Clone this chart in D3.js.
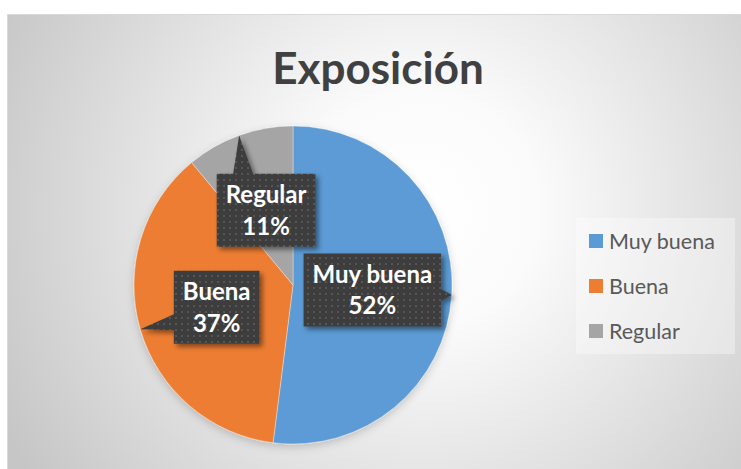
<!DOCTYPE html>
<html>
<head>
<meta charset="utf-8">
<script src="https://cdn.jsdelivr.net/npm/d3@7"></script>
<style>
  body { margin: 0; background: #fff; }
  svg { display: block; }
</style>
</head>
<body>
<script>
// Data
var categories = ["Muy buena", "Buena", "Regular"],
    values = [52, 37, 11],
    colors = ["#5b9bd5", "#ed7d31", "#a5a5a5"],
    title = "Exposición";

var canvas = {w: 741, h: 469},
    frame = {x: 7.5, y: 14.5},
    pieCenter = {x: 293, y: 285},
    radius = 159;

var svg = d3.select("body").append("svg")
    .attr("width", canvas.w)
    .attr("height", canvas.h);

var defs = svg.append("defs");

// radial background like the Excel style
var grad = defs.append("radialGradient")
    .attr("id", "bg")
    .attr("gradientUnits", "userSpaceOnUse")
    .attr("cx", 420).attr("cy", 210).attr("r", 470);
grad.append("stop").attr("offset", "0").attr("stop-color", "#ffffff");
grad.append("stop").attr("offset", "0.25").attr("stop-color", "#fbfbfb");
grad.append("stop").attr("offset", "1").attr("stop-color", "#c6c6c6");

// dotted dark fill of the callouts
var pat = defs.append("pattern")
    .attr("id", "dots")
    .attr("patternUnits", "userSpaceOnUse")
    .attr("width", 6).attr("height", 6);
pat.append("rect").attr("width", 6).attr("height", 6).attr("fill", "#3e3e3e");
pat.append("rect").attr("x", 2).attr("y", 2).attr("width", 2).attr("height", 2).attr("fill", "#575757");

var shadow = defs.append("filter").attr("id", "shadow")
    .attr("x", "-20%").attr("y", "-20%").attr("width", "150%").attr("height", "150%");
shadow.append("feDropShadow")
    .attr("dx", 3).attr("dy", 3).attr("stdDeviation", 2.5)
    .attr("flood-color", "#000").attr("flood-opacity", 0.45);

var pieShadow = defs.append("filter").attr("id", "pieShadow")
    .attr("x", "-20%").attr("y", "-20%").attr("width", "140%").attr("height", "140%");
pieShadow.append("feDropShadow")
    .attr("dx", 0).attr("dy", 3).attr("stdDeviation", 4)
    .attr("flood-color", "#000").attr("flood-opacity", 0.18);

// chart area
svg.append("rect")
    .attr("x", frame.x).attr("y", frame.y)
    .attr("width", canvas.w - frame.x + 2)
    .attr("height", canvas.h - frame.y + 2)
    .attr("fill", "url(#bg)")
    .attr("stroke", "#d9d9d9")
    .attr("stroke-width", 1);

// title
svg.append("text")
    .attr("x", 378).attr("y", 84)
    .attr("text-anchor", "middle")
    .style("font-family", "Lato, 'Open Sans', sans-serif")
    .style("font-weight", "bold")
    .style("font-size", "44px")
    .attr("fill", "#404040")
    .text(title);

// pie
var table = categories.map(function(c, i) {
    return {name: c, value: values[i], color: colors[i]};
});

var pie = d3.pie()
    .sort(null)
    .value(function(d) { return d.value; });

var arc = d3.arc().innerRadius(0).outerRadius(radius);
var edge = d3.arc().innerRadius(radius).outerRadius(radius);

var g = svg.append("g")
    .attr("transform", "translate(" + pieCenter.x + "," + pieCenter.y + ")");

var arcs = pie(table);

g.append("g")
    .attr("filter", "url(#pieShadow)")
    .selectAll("path")
    .data(arcs)
    .enter().append("path")
    .attr("d", arc)
    .attr("fill", function(d) { return d.data.color; })
    .attr("stroke", "#ffffff")
    .attr("stroke-opacity", 0.6)
    .attr("stroke-width", 0.6);

// callout labels: box centred on the slice centroid, pointer to the rim
var labelFont = {family: "Lato, 'Open Sans', sans-serif", size: 24};
var pad = 9, boxH = 73;

var label = g.selectAll(".callout")
    .data(arcs)
    .enter().append("g")
    .attr("class", "callout");

label.each(function(d) {
    var sel = d3.select(this),
        c = arc.centroid(d),
        tip = edge.centroid(d),
        pct = Math.round(d.value / d3.sum(values) * 100) + "%";

    var t1 = sel.append("text")
        .attr("x", c[0]).attr("y", c[1] - 7)
        .attr("text-anchor", "middle")
        .style("font-family", labelFont.family)
        .style("font-weight", "bold")
        .style("font-size", labelFont.size + "px")
        .attr("fill", "#ffffff")
        .text(d.data.name);
    var t2 = sel.append("text")
        .attr("x", c[0]).attr("y", c[1] + 24.5)
        .attr("text-anchor", "middle")
        .style("font-family", labelFont.family)
        .style("font-weight", "bold")
        .style("font-size", labelFont.size + "px")
        .attr("fill", "#ffffff")
        .text(pct);

    var w = Math.max(t1.node().getComputedTextLength(), t2.node().getComputedTextLength()) + 2 * pad;
    var x0 = c[0] - w / 2, x1 = c[0] + w / 2,
        y0 = c[1] - boxH / 2, y1 = c[1] + boxH / 2;

    // pointer base on the side of the box facing the tip
    var pts;
    if (tip[1] < y0) {
        var bx = Math.max(x0 + 6, Math.min(x1 - 26, tip[0] - 6));
        pts = [[x0, y0], [bx, y0], [tip[0], tip[1]], [bx + 20, y0], [x1, y0], [x1, y1], [x0, y1]];
    } else if (tip[0] < x0) {
        var by = Math.max(y0 + 6, Math.min(y1 - 16, tip[1] - 15));
        pts = [[x0, y0], [x1, y0], [x1, y1], [x0, y1], [x0, by + 16], [tip[0], tip[1]], [x0, by]];
    } else {
        var ry = Math.max(y0 + 6, Math.min(y1 - 12, tip[1] - 6));
        pts = [[x0, y0], [x1, y0], [x1, ry], [tip[0], tip[1]], [x1, ry + 12], [x1, y1], [x0, y1]];
    }

    sel.insert("path", "text")
        .attr("d", d3.line()(pts) + "Z")
        .attr("fill", "url(#dots)")
        .attr("filter", "url(#shadow)");
});

// legend
var legend = svg.append("g");
legend.append("rect")
    .attr("x", 576).attr("y", 218)
    .attr("width", 159).attr("height", 136)
    .attr("fill", "#ffffff")
    .attr("fill-opacity", 0.35);

var item = legend.selectAll(".item")
    .data(table)
    .enter().append("g")
    .attr("class", "item")
    .attr("transform", function(d, i) { return "translate(589," + (241 + i * 45) + ")"; });

item.append("rect")
    .attr("x", 0).attr("y", -7)
    .attr("width", 14).attr("height", 14)
    .attr("fill", function(d) { return d.color; });

item.append("text")
    .attr("x", 20).attr("y", 7.5)
    .style("font-family", "Lato, 'Open Sans', sans-serif")
    .style("font-size", "21.5px")
    .attr("fill", "#595959")
    .text(function(d) { return d.name; });
</script>
</body>
</html>
